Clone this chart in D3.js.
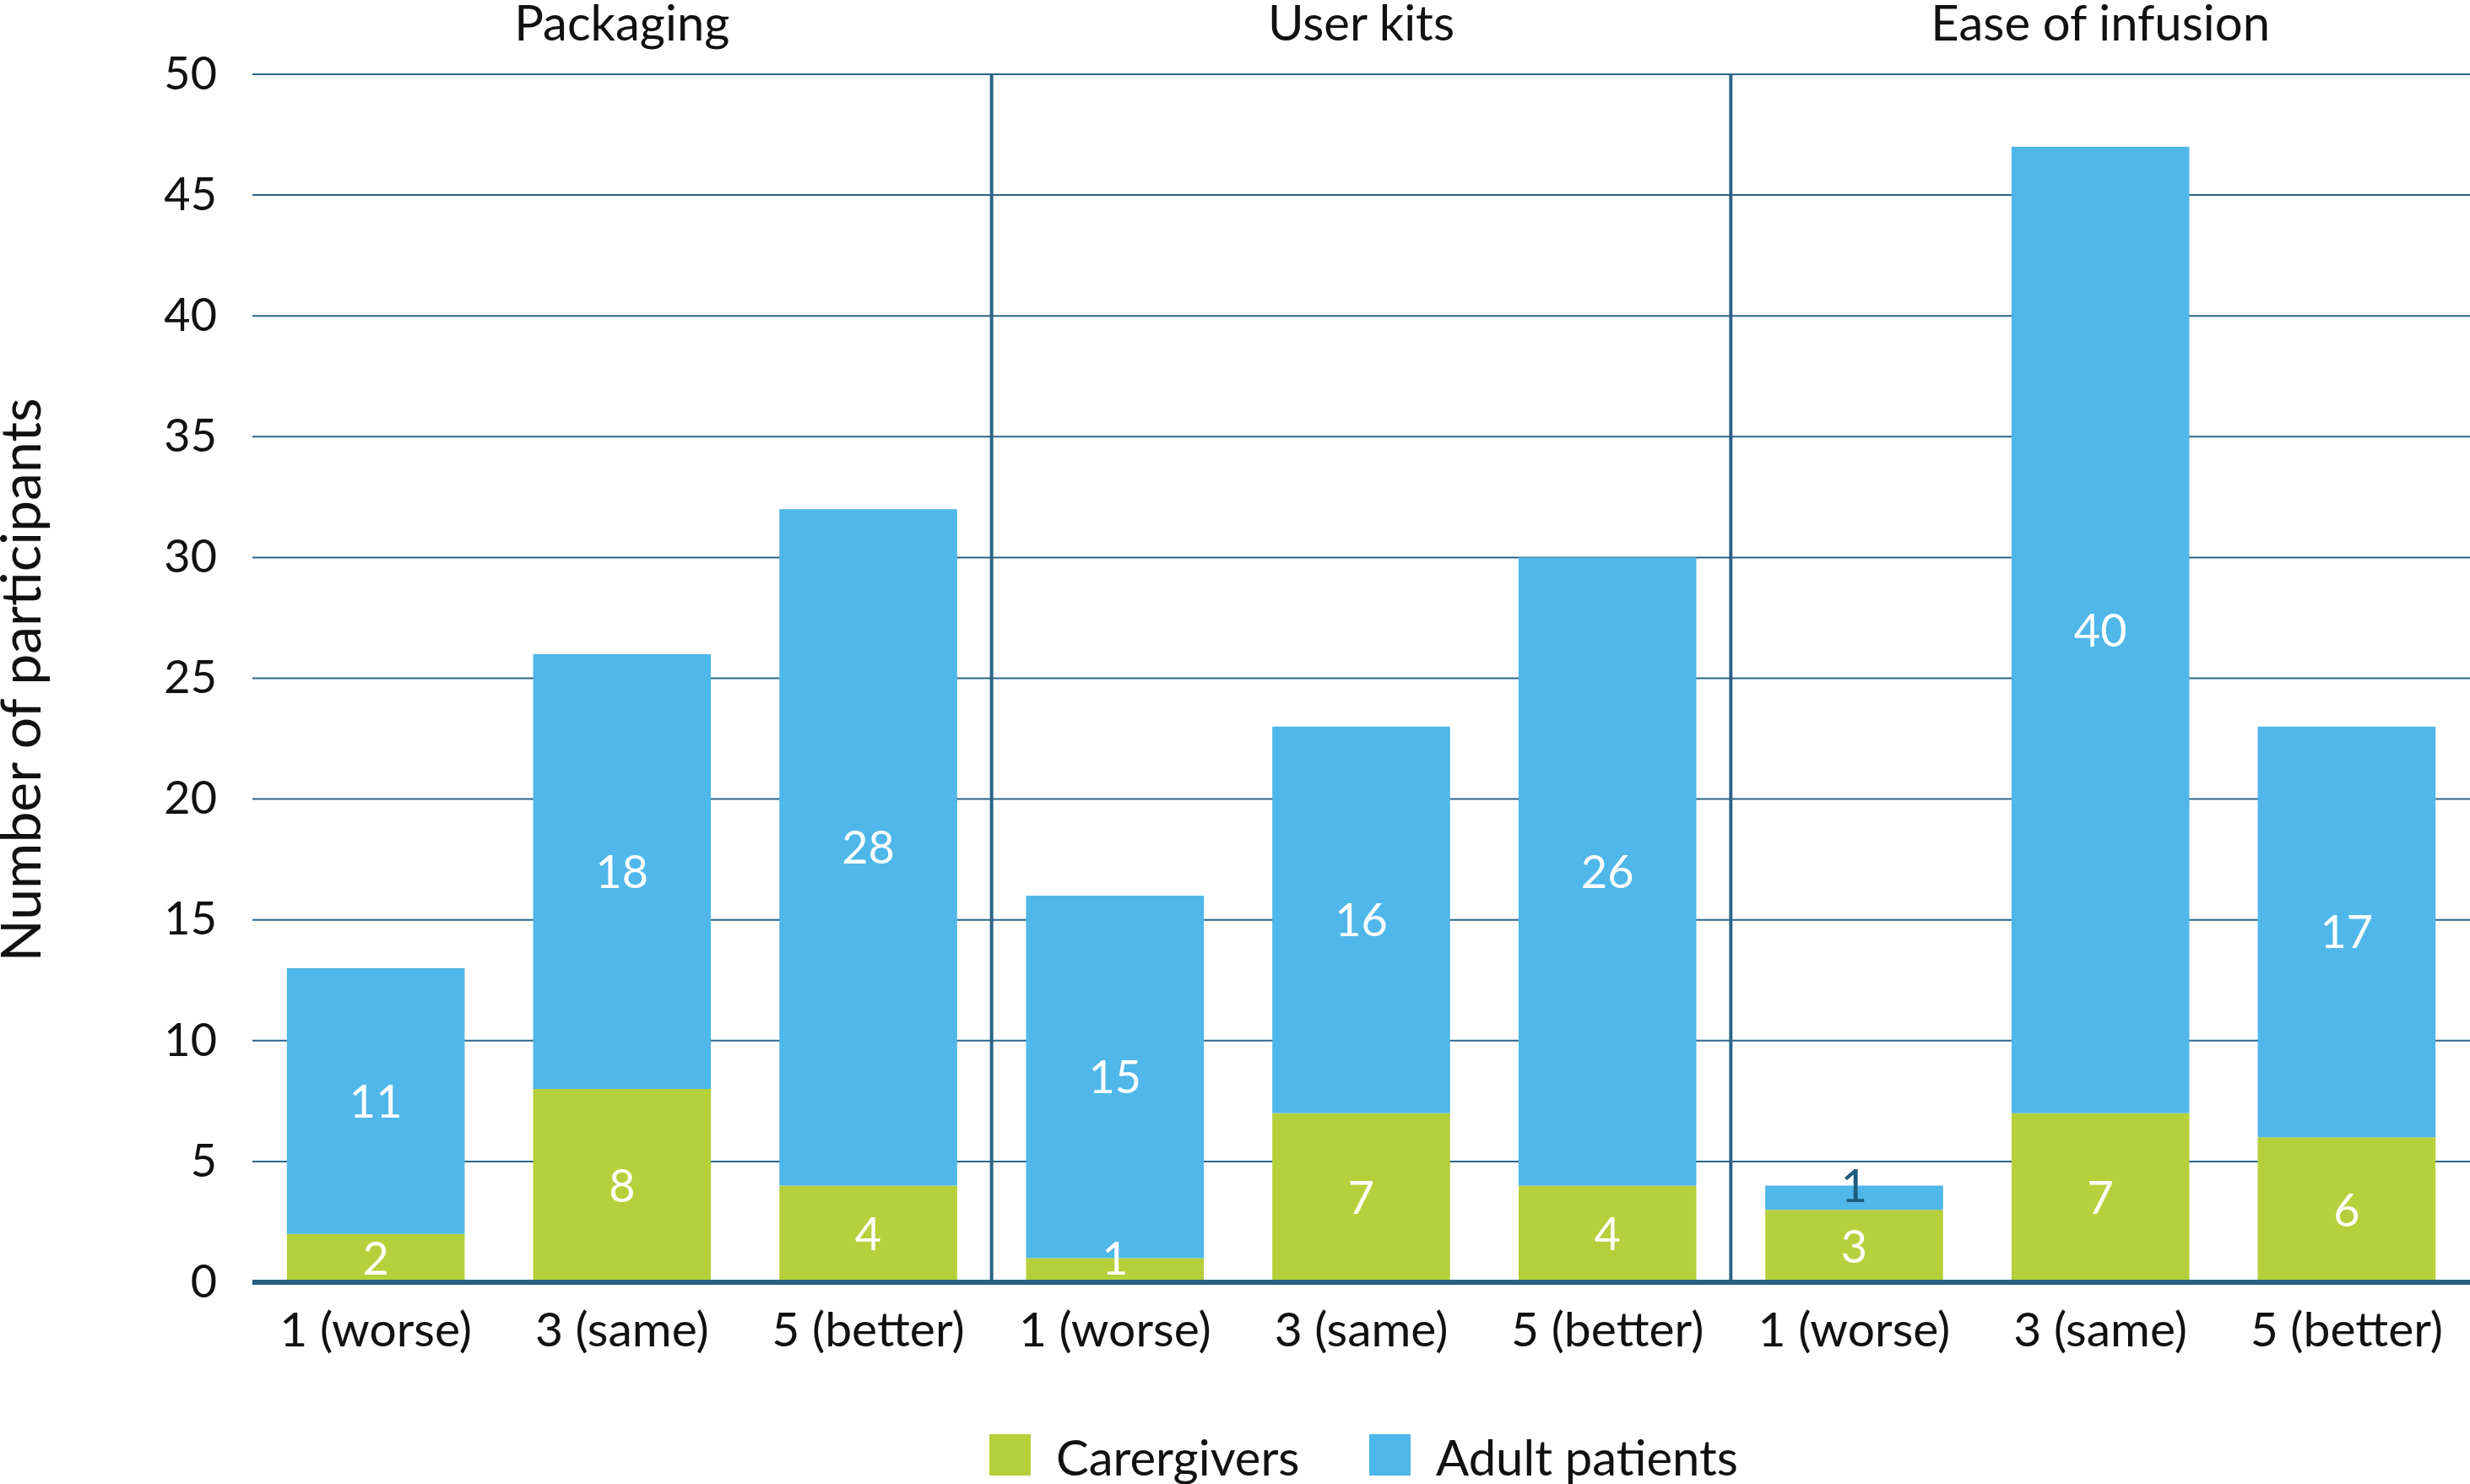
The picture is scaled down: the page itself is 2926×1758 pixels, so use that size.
<!DOCTYPE html>
<html>
<head>
<meta charset="utf-8">
<script src="https://cdn.jsdelivr.net/npm/d3@7"></script>
<style>
  body { margin: 0; background: #fff; }
  text { font-family: Lato, "Open Sans", sans-serif; fill: #111; }
</style>
</head>
<body>
<svg id="chart"></svg>
<script>
const panels = ["Packaging", "User kits", "Ease of infusion"];
const ratings = ["1 (worse)", "3 (same)", "5 (better)"];
const caregivers = [2, 8, 4, 1, 7, 4, 3, 7, 6];
const adultPatients = [11, 18, 28, 15, 16, 26, 1, 40, 17];
const yTicks = [0, 5, 10, 15, 20, 25, 30, 35, 40, 45, 50];
const seriesNames = ["Carergivers", "Adult patients"];

const width = 2926;
const height = 1758;
const green = '#b6d03b';
const blue = '#4fb7e9';
const lineColor = '#2a6587';

const svg = d3.select('#chart')
	.attr('viewBox', [0, 0, width, height])
	.attr('width', width)
	.attr('height', height);

const left = 299;
const right = width;

const y = d3.scaleLinear()
	.domain([0, 50])
	.range([1519, 88]);

const panelScale = d3.scaleBand()
	.domain(panels)
	.range([left, right]);

const barScale = d3.scaleBand()
	.domain(ratings)
	.range([0, panelScale.bandwidth()])
	.paddingInner(0.278)
	.paddingOuter(0.14);

// flatten to one row per bar
const rows = [];
panels.forEach((p, pi) => {
	ratings.forEach((r, ri) => {
		const i = pi * 3 + ri;
		rows.push({ panel: p, rating: r, caregivers: caregivers[i], adults: adultPatients[i] });
	});
});
const barX = d => panelScale(d.panel) + barScale(d.rating);

// gridlines
svg.append('g')
	.selectAll('line')
	.data(yTicks.filter(t => t > 0))
	.join('line')
		.attr('x1', left)
		.attr('x2', right)
		.attr('y1', d => y(d))
		.attr('y2', d => y(d))
		.attr('stroke', lineColor)
		.attr('stroke-width', 2);

// y axis labels
const yAxis = svg.append('g')
	.attr('transform', `translate(${left},0)`)
	.call(d3.axisLeft(y).tickValues(yTicks).tickSize(0).tickPadding(42));
yAxis.select('.domain').remove();
yAxis.selectAll('text')
	.attr('font-size', 54)
	.attr('font-family', 'Lato, sans-serif')
	.attr('fill', '#111');

// stacked bars
const stack = d3.stack().keys(['caregivers', 'adults'])(rows);
const colors = { caregivers: green, adults: blue };

svg.append('g')
	.selectAll('g')
	.data(stack)
	.join('g')
		.attr('fill', d => colors[d.key])
	.selectAll('rect')
	.data(d => d)
	.join('rect')
		.attr('x', d => barX(d.data))
		.attr('width', barScale.bandwidth())
		.attr('y', d => y(d[1]))
		.attr('height', d => y(d[0]) - y(d[1]));

// panel dividers
svg.append('g')
	.selectAll('line')
	.data(panels.slice(1))
	.join('line')
		.attr('x1', d => panelScale(d))
		.attr('x2', d => panelScale(d))
		.attr('y1', y(50))
		.attr('y2', y(0))
		.attr('stroke', lineColor)
		.attr('stroke-width', 4);

// baseline
svg.append('line')
	.attr('x1', left)
	.attr('x2', right)
	.attr('y1', y(0))
	.attr('y2', y(0))
	.attr('stroke', '#285f82')
	.attr('stroke-width', 6);

// value labels, drawn above all bars
const labels = [];
stack.forEach(layer => {
	layer.forEach(d => {
		labels.push({ key: layer.key, row: d.data, lo: d[0], hi: d[1], value: d.data[layer.key] });
	});
});
const thinAdult = d => d.key === 'adults' && d.hi - d.lo < 2;

svg.append('g')
	.selectAll('text')
	.data(labels)
	.join('text')
		.attr('x', d => barX(d.row) + barScale.bandwidth() / 2)
		.attr('y', d => thinAdult(d) ? y(d.hi) : Math.min(y((d.lo + d.hi) / 2), y(0) - 28))
		.attr('dy', '0.36em')
		.attr('text-anchor', 'middle')
		.attr('font-size', 54)
		.style('fill', d => thinAdult(d) ? '#1d5c7e' : '#fff')
		.text(d => d.value);

// panel titles
svg.append('g')
	.selectAll('text')
	.data(panels)
	.join('text')
		.attr('x', d => panelScale(d) + panelScale.bandwidth() / 2)
		.attr('y', 48)
		.attr('text-anchor', 'middle')
		.attr('font-size', 58)
		.text(d => d);

// x category labels
svg.append('g')
	.selectAll('text')
	.data(rows)
	.join('text')
		.attr('x', d => barX(d) + barScale.bandwidth() / 2)
		.attr('y', 1595)
		.attr('text-anchor', 'middle')
		.attr('font-size', 57)
		.text(d => d.rating);

// y axis title
svg.append('text')
	.attr('transform', `translate(48,${(y(0) + y(50)) / 2 + 2}) rotate(-90)`)
	.attr('text-anchor', 'middle')
	.attr('font-size', 66)
	.text('Number of participants');

// legend
const legend = svg.append('g')
	.selectAll('g')
	.data(seriesNames)
	.join('g')
		.attr('transform', (d, i) => `translate(${1172 + i * 450},1699)`);
legend.append('rect')
	.attr('width', 49)
	.attr('height', 49)
	.attr('fill', (d, i) => i === 0 ? green : blue);
legend.append('text')
	.attr('x', 79)
	.attr('y', 49)
	.attr('font-size', 58)
	.text(d => d);
</script>
</body>
</html>
